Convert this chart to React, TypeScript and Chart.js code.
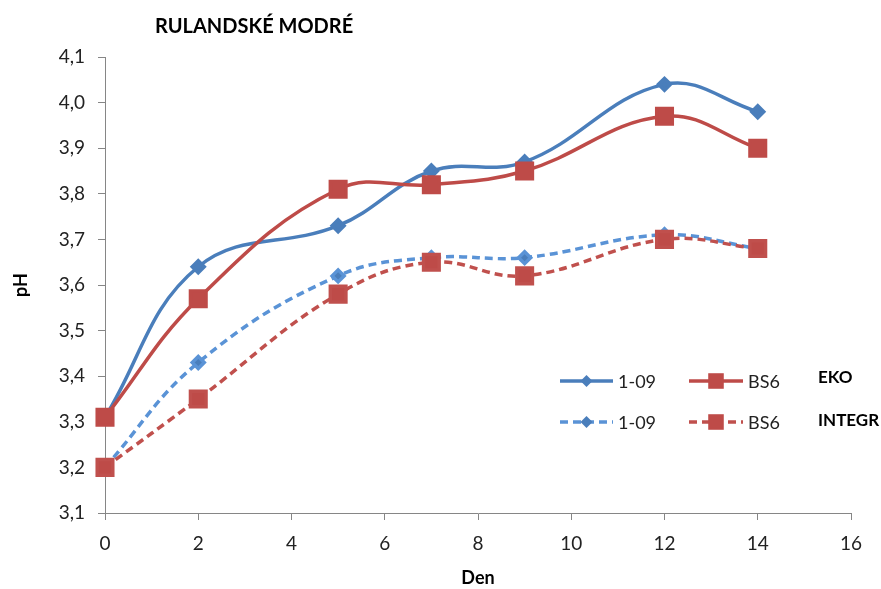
import React, { useEffect, useRef } from "react";
import { Chart, registerables } from "chart.js";

Chart.register(...registerables);

const days = [0, 2, 5, 7, 9, 12, 14];
const eko109 = [3.31, 3.64, 3.73, 3.85, 3.87, 4.04, 3.98];
const ekoBS6 = [3.31, 3.57, 3.81, 3.82, 3.85, 3.97, 3.9];
const integr109 = [3.2, 3.43, 3.62, 3.66, 3.66, 3.71, 3.68];
const integrBS6 = [3.2, 3.35, 3.58, 3.65, 3.62, 3.7, 3.68];
const seriesNames = ["1-09", "BS6", "1-09", "BS6"];
const groupNames = ["EKO", "INTEGR"];
const chartTitle = "RULANDSKÉ MODRÉ";
const xTitle = "Den";
const yTitle = "pH";

const BLUE = "#4A7EBB";
const RED = "#BE4B48";
const LBLUE = "#5A93D6";
const LRED = "#C0504D";
const FONT = "Lato, 'Open Sans', sans-serif";

const toPts = (ys: number[]) => days.map((d, i) => ({ x: d, y: ys[i] }));

export default function App() {
  const ref = useRef<HTMLCanvasElement | null>(null);
  useEffect(() => {
    if (!ref.current) return;
    const overlay = {
      id: "overlay",
      afterDraw(chart: any) {
        const ctx = chart.ctx;
        ctx.save();
        ctx.fillStyle = "#000";
        ctx.font = `bold 20px ${FONT}`;
        ctx.textBaseline = "middle";
        ctx.textAlign = "left";
        ctx.fillText(chartTitle, 155, 27);
        const rows = [
          { y: 381, gy: 378, dash: [] as number[], c1: BLUE, c2: RED, m1: BLUE, m2: RED, g: groupNames[0] },
          { y: 422, gy: 421, dash: [8, 5], c1: LBLUE, c2: LRED, m1: BLUE, m2: RED, g: groupNames[1] },
        ];
        rows.forEach((r, ri) => {
          const items = [
            { x0: 560, x1: 613, c: r.c1, m: r.m1, style: "rectRot", rad: 6, label: seriesNames[ri * 2] },
            { x0: 689, x1: 743, c: r.c2, m: r.m2, style: "rect", rad: 11, label: seriesNames[ri * 2 + 1] },
          ];
          items.forEach((it) => {
            ctx.strokeStyle = it.c;
            ctx.lineWidth = 3.5;
            ctx.setLineDash(r.dash);
            ctx.beginPath();
            ctx.moveTo(it.x0, r.y);
            ctx.lineTo(it.x1, r.y);
            ctx.stroke();
            ctx.setLineDash([]);
            ctx.fillStyle = it.m;
            const cx = (it.x0 + it.x1) / 2;
            if (it.style === "rect") {
              const s = it.rad * Math.SQRT1_2;
              ctx.fillRect(cx - s, r.y - s, 2 * s, 2 * s);
            } else {
              ctx.beginPath();
              ctx.moveTo(cx - it.rad, r.y);
              ctx.lineTo(cx, r.y - it.rad);
              ctx.lineTo(cx + it.rad, r.y);
              ctx.lineTo(cx, r.y + it.rad);
              ctx.closePath();
              ctx.fill();
            }
            ctx.fillStyle = "#222";
            ctx.font = `18px ${FONT}`;
            ctx.fillText(it.label, it.x1 + 5, r.y + 1);
          });
          ctx.fillStyle = "#000";
          ctx.font = `bold 17px ${FONT}`;
          ctx.fillText(r.g, 818, r.gy);
        });
        ctx.restore();
      },
    };
    const common = { borderWidth: 3.5, tension: 0.4, clip: false };
    const chart = new Chart(ref.current, {
      type: "line",
      data: {
        datasets: [
          {
            ...common,
            label: seriesNames[0],
            data: toPts(eko109),
            borderColor: BLUE,
            backgroundColor: BLUE,
            pointStyle: "rectRot",
            pointRadius: 6,
            order: 4,
          },
          {
            ...common,
            label: seriesNames[1],
            data: toPts(ekoBS6),
            borderColor: RED,
            backgroundColor: RED,
            pointStyle: "rect",
            pointRadius: 11,
            order: 3,
          },
          {
            ...common,
            label: seriesNames[2],
            data: toPts(integr109),
            borderColor: LBLUE,
            backgroundColor: BLUE,
            borderDash: [8, 5],
            pointStyle: "rectRot",
            pointRadius: 6,
            order: 2,
          },
          {
            ...common,
            label: seriesNames[3],
            data: toPts(integrBS6),
            borderColor: LRED,
            backgroundColor: RED,
            borderDash: [8, 5],
            pointStyle: "rect",
            pointRadius: 11,
            order: 1,
          },
        ],
      },
      options: {
        animation: false,
        responsive: false,
        maintainAspectRatio: false,
        layout: { padding: { left: 0, right: 30, top: 57, bottom: 0 } },
        plugins: { legend: { display: false }, tooltip: { enabled: false }, title: { display: false } },
        elements: { point: { borderWidth: 0 } },
        scales: {
          x: {
            type: "linear",
            min: 0,
            max: 16,
            ticks: { stepSize: 2, color: "#222", font: { family: FONT, size: 19 }, padding: 12 },
            grid: { drawOnChartArea: false, drawTicks: true, tickLength: 7, color: "#868686" },
            border: { color: "#868686", width: 1 },
            title: { display: true, text: xTitle, color: "#000", font: { family: FONT, size: 18, weight: "bold" }, padding: { top: 0, bottom: 0 } },
            afterFit: (s: any) => {
              s.height = 76;
            },
          },
          y: {
            type: "linear",
            min: 3.1,
            max: 4.1,
            ticks: {
              stepSize: 0.1,
              color: "#222",
              font: { family: FONT, size: 19 },
              padding: 13,
              callback: (v: any) => Number(v).toFixed(1).replace(".", ","),
            },
            grid: { drawOnChartArea: false, drawTicks: true, tickLength: 7, color: "#868686" },
            border: { color: "#868686", width: 1 },
            title: { display: true, text: yTitle, color: "#000", font: { family: FONT, size: 18, weight: "bold" }, padding: { top: 10, bottom: 0 } },
            afterFit: (s: any) => {
              s.width = 105;
            },
          },
        },
      },
      plugins: [overlay],
    } as any);
    return () => chart.destroy();
  }, []);
  return (
    <div style={{ position: "fixed", left: 0, top: 0, width: 881, height: 589, background: "#fff" }}>
      <canvas ref={ref} width={881} height={589} style={{ width: 881, height: 589 }} />
    </div>
  );
}
